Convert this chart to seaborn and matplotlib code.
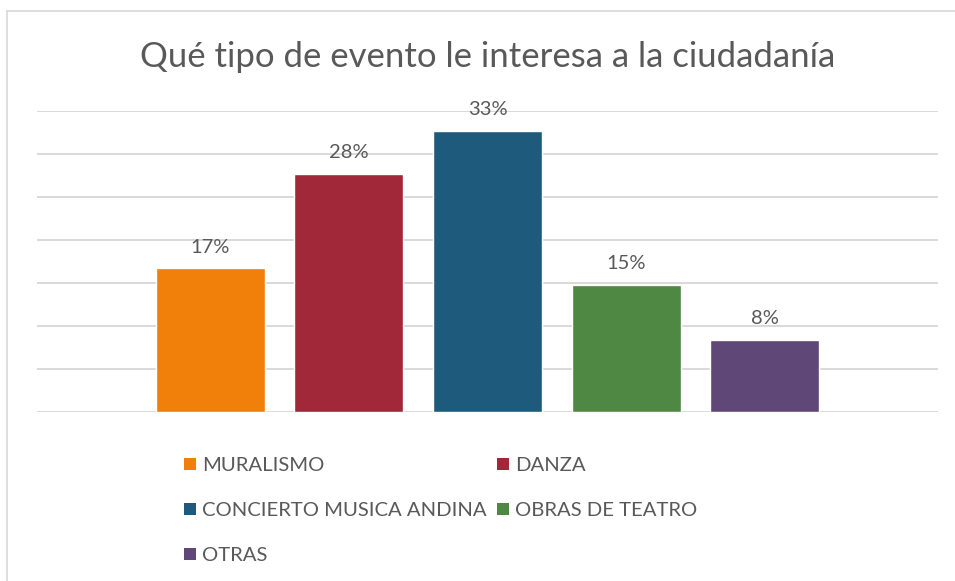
import numpy as np
import matplotlib
matplotlib.use("Agg")
import matplotlib.pyplot as plt
import seaborn as sns
from matplotlib.patches import Patch
from matplotlib.lines import Line2D

categories = ["MURALISMO", "DANZA", "CONCIERTO MUSICA ANDINA", "OBRAS DE TEATRO", "OTRAS"]
values = [0.167, 0.277, 0.327, 0.148, 0.084]
colors = ["#F0800A", "#A12838", "#1E5A7C", "#4E8842", "#5F4878"]
title = "Qué tipo de evento le interesa a la ciudadanía"

TEXT = "#595959"
GRID = "#D9D9D9"

sns.set_style("white")
plt.rcParams["font.family"] = ["Lato", "DejaVu Sans"]

fig = plt.figure(figsize=(9.55, 5.81), dpi=100)
ax = fig.add_axes([37 / 955, 1 - 412 / 581, 901 / 955, 301 / 581])

sns.barplot(x=categories, y=values, hue=categories, palette=colors,
            width=0.787, saturation=1, legend=False, ax=ax)

for cont, v in zip(ax.containers, values):
    ax.bar_label(cont, labels=[f"{v:.0%}"], padding=9, fontsize=14.5,
                 color=TEXT, clip_on=False)

ax.set_xlim(-1.25, 5.25)
ax.set_ylim(0, 0.35)
ax.set_yticks(np.arange(0, 0.351, 0.05))
ax.yaxis.grid(True, color=GRID, lw=1.4)
ax.set_axisbelow(True)
ax.tick_params(length=0, labelleft=False, labelbottom=False)
ax.set_xlabel("")
ax.set_ylabel("")
sns.despine(ax=ax, left=True, bottom=True)

fig.text(0.5105, 1 - 57 / 581, title, ha="center", va="center",
         fontsize=25, fontweight="normal", color=TEXT)

# legend, row-major order like the original
order = [0, 2, 4, 1, 3]
handles = [Patch(facecolor=colors[i], edgecolor="none") for i in order]
labels = [categories[i] for i in order]
fig.legend(handles, labels, ncol=2, loc="upper left",
           bbox_to_anchor=(174 / 955, 1 - 447 / 581), frameon=False,
           fontsize=14.6, labelcolor=TEXT, handlelength=0.6, handleheight=0.6,
           handletextpad=0.3, columnspacing=0.5, labelspacing=1.38, borderpad=0)

# chart frame (cut off on the right and bottom)
fig.add_artist(Line2D([7 / 955, 7 / 955], [0, 1 - 11 / 581], color=GRID, lw=1.2,
                      transform=fig.transFigure))
fig.add_artist(Line2D([7 / 955, 1], [1 - 11 / 581, 1 - 11 / 581], color=GRID, lw=1.2,
                      transform=fig.transFigure))

fig.savefig("out.png", dpi=100, facecolor="white")
